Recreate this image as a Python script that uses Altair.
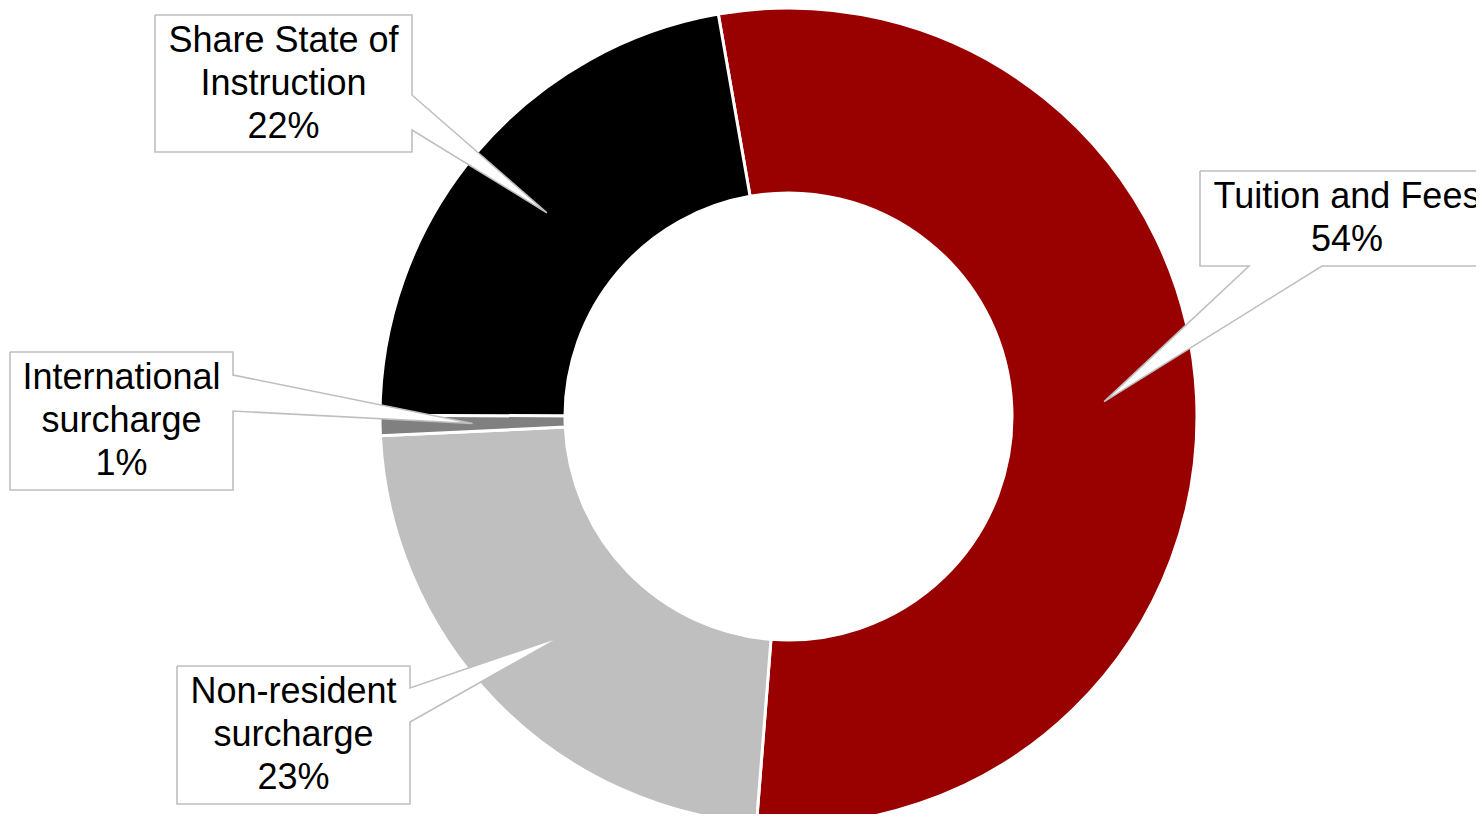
import math
import altair as alt
import pandas as pd

# ---- data ----
categories = ["Tuition and Fees", "Non-resident surcharge", "International surcharge", "Share State of Instruction"]
values = [54.0, 23.0, 0.8, 22.2]
pct_labels = ["54%", "23%", "1%", "22%"]
colors = ["#990000", "#BFBFBF", "#808080", "#000000"]
label_names = ["Tuition and Fees", "Non-resident\nsurcharge", "International\nsurcharge", "Share State of\nInstruction"]

# ---- layout ----
W, H = 1468, 806
M = 8  # page margin
CX, CY = 788.5 - M, 416.5 - M
R_OUT, R_IN = 408.5, 223.5
START_DEG = -9.9
LINE_H = 43
# callout boxes in page coordinates: (x0, y0, x1, y1, side, base1, base2)
boxes = [
    (1200, 171, 1494, 266, "bottom", 1249, 1322),
    (177, 666, 410, 804, "right", 688, 722),
    (10, 352, 233, 490, "right", 375, 411),
    (155, 15, 412, 152, "right", 95, 130),
]

# arc data
total = sum(values)
arc_df = pd.DataFrame({"cat": categories, "value": values, "idx": list(range(len(values)))})

# callout tips at middle of each slice
tips = []
cum = 0.0
for v in values:
    mid = math.radians(START_DEG + (cum + v / 2) / total * 360)
    rm = (R_OUT + R_IN) / 2
    tips.append((CX + rm * math.sin(mid), CY - rm * math.cos(mid)))
    cum += v

poly_rows = []
text_rows = []
for i, (x0, y0, x1, y1, side, b1, b2) in enumerate(boxes):
    x0, y0, x1, y1 = x0 - M, y0 - M, x1 - M, y1 - M
    tx, ty = tips[i]
    if side == "right":
        pts = [(x0, y0), (x1, y0), (x1, b1 - M), (tx, ty), (x1, b2 - M), (x1, y1), (x0, y1), (x0, y0)]
    else:
        pts = [(x0, y0), (x1, y0), (x1, y1), (b2 - M, y1), (tx, ty), (b1 - M, y1), (x0, y1), (x0, y0)]
    for k, (px, py) in enumerate(pts):
        poly_rows.append({"id": i, "k": k, "px": px, "py": py})
    txt = label_names[i] + "\n" + pct_labels[i]
    n = txt.count("\n") + 1
    text_rows.append({"px": (x0 + x1) / 2, "py": (y0 + y1) / 2 - (n - 1) * LINE_H / 2,
                      "txt": txt})

poly_df = pd.DataFrame(poly_rows)
text_df = pd.DataFrame(text_rows)

xs = alt.Scale(domain=[0, W], range=[0, W], nice=False, zero=False)
ys = alt.Scale(domain=[0, H], range=[0, H], nice=False, zero=False)

tau = 2 * math.pi
start = math.radians(START_DEG) + tau

arcs = alt.Chart(arc_df).mark_arc(
    radius=R_OUT, radius2=R_IN, stroke="white", strokeWidth=3
).encode(
    theta=alt.Theta("value:Q", stack=True, scale=alt.Scale(range=[start, start + tau])),
    color=alt.Color("cat:N", scale=alt.Scale(domain=categories, range=colors), legend=None),
    order=alt.Order("idx:Q"),
    x=alt.value(CX),
    y=alt.value(CY),
)

callouts = alt.Chart(poly_df).mark_line(
    fill="white", stroke="#BFBFBF", strokeWidth=1.6, interpolate="linear", strokeJoin="miter"
).encode(
    x=alt.X("px:Q", scale=xs, axis=None),
    y=alt.Y("py:Q", scale=ys, axis=None),
    detail="id:N",
    order="k:Q",
)

texts = alt.Chart(text_df).mark_text(
    font="Liberation Sans", fontSize=36, lineHeight=LINE_H, color="black",
    align="center", baseline="middle", lineBreak="\n"
).encode(
    x=alt.X("px:Q", scale=xs, axis=None),
    y=alt.Y("py:Q", scale=ys, axis=None),
    text="txt:N",
)

chart = alt.layer(arcs, callouts, texts).properties(
    width=W, height=H, padding=0, autosize=alt.AutoSizeParams(type="none")
).configure_view(stroke=None)

chart.save("out.html", embed_options={"renderer": "svg", "actions": False})
